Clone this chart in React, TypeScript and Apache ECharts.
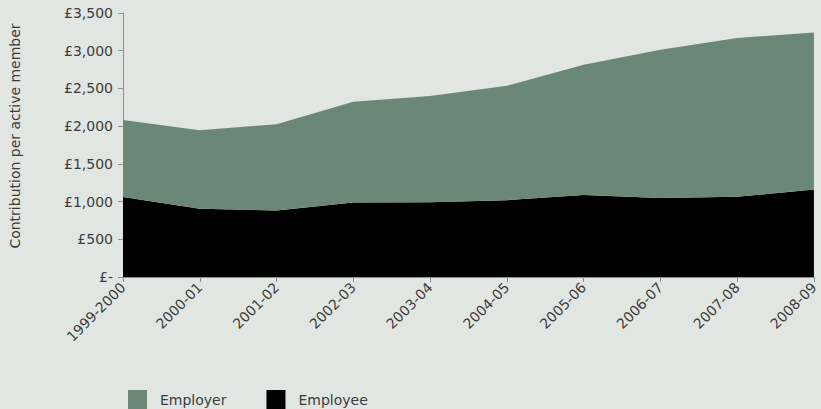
import React, { useEffect, useRef } from "react";
import * as echarts from "echarts";

const categories = ["1999-2000", "2000-01", "2001-02", "2002-03", "2003-04", "2004-05", "2005-06", "2006-07", "2007-08", "2008-09"];
const employee = [1059, 904, 882, 989, 990, 1019, 1086, 1046, 1063, 1161];
const employer = [1024, 1042, 1143, 1333, 1408, 1516, 1728, 1967, 2105, 2082];
const yTicks = [0, 500, 1000, 1500, 2000, 2500, 3000, 3500];

const FONT = "DejaVu Sans";
const TEXT = "#3c3c3c";
const GREEN = "#6b8876";
const BG = "#e1e6e2";

export default function App() {
  const ref = useRef<HTMLDivElement>(null);
  useEffect(() => {
    if (!ref.current) return;
    const chart = echarts.init(ref.current, null, { renderer: "svg" });
    chart.setOption({
      animation: false,
      backgroundColor: BG,
      textStyle: { fontFamily: FONT },
      grid: { left: 121, right: 7, top: 13, bottom: 132, containLabel: false },
      legend: {
        data: ["Employer", "Employee"],
        left: 128,
        top: 390,
        padding: 0,
        itemWidth: 19,
        itemHeight: 19,
        itemGap: 40,
        icon: "rect",
        textStyle: { fontFamily: FONT, fontSize: 14, color: TEXT, padding: [0, 0, 0, 8] },
      },
      xAxis: {
        type: "category",
        data: categories,
        boundaryGap: false,
        axisLine: { show: true, lineStyle: { color: "#8c9196", width: 1 } },
        axisTick: { show: true, length: 5, alignWithLabel: true, lineStyle: { color: "#8c9196" } },
        axisLabel: { rotate: 45, fontSize: 14, color: TEXT, fontFamily: FONT, margin: 8, interval: 0 },
        splitLine: { show: false },
      },
      yAxis: {
        type: "value",
        min: yTicks[0],
        max: yTicks[yTicks.length - 1],
        interval: 500,
        name: "Contribution per active member",
        nameLocation: "middle",
        nameGap: 101,
        nameTextStyle: { fontSize: 14, color: TEXT, fontFamily: FONT, padding: [0, 0, 0, 18] },
        axisLine: { show: true, lineStyle: { color: "#8c9196", width: 1 } },
        axisTick: { show: true, length: 5, lineStyle: { color: "#8c9196" } },
        axisLabel: {
          fontSize: 14,
          color: TEXT,
          fontFamily: FONT,
          margin: 10,
          formatter: (v: number) => (v === 0 ? "£-" : "£" + v.toLocaleString("en-GB")),
        },
        splitLine: { show: false },
      },
      series: [
        {
          name: "Employee",
          type: "line",
          stack: "total",
          data: employee,
          symbol: "none",
          lineStyle: { width: 0 },
          areaStyle: { color: "#000000", opacity: 1 },
          itemStyle: { color: "#000000" },
        },
        {
          name: "Employer",
          type: "line",
          stack: "total",
          data: employer,
          symbol: "none",
          lineStyle: { width: 0 },
          areaStyle: { color: GREEN, opacity: 1 },
          itemStyle: { color: GREEN },
        },
      ],
    });
    return () => chart.dispose();
  }, []);
  return <div ref={ref} style={{ position: "fixed", left: 0, top: 0, width: 821, height: 409 }} />;
}
